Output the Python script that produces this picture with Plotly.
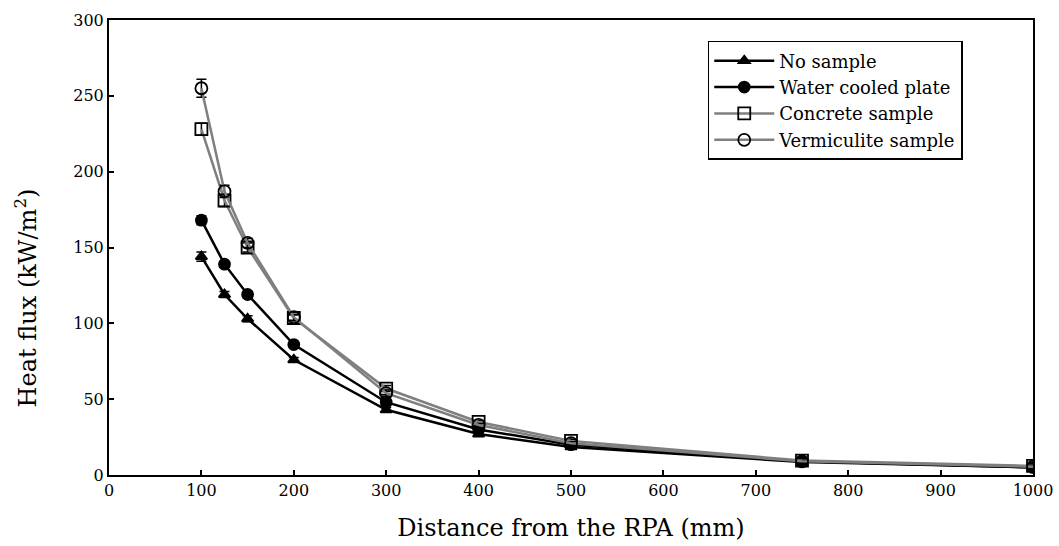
import plotly.graph_objects as go

# Distance from the radiant panel assembly (mm)
distance = [100, 125, 150, 200, 300, 400, 500, 750, 1000]

# Measured heat flux (kW/m2) for each configuration
no_sample = [144, 119, 103, 76, 43, 27, 18.5, 8.5, 5]
water_cooled = [168, 139, 119, 86, 48, 30, 20, 9, 5]
concrete = [228, 181, 150, 103.5, 57, 35, 22.5, 9.5, 6]
vermiculite = [255, 187, 153, 104, 54, 33, 21, 9, 5.5]

# Standard deviations shown as error bars
no_sample_err = [3, 2, 2, 1.5, 1.5, 1, 1, 0.5, 0.5]
water_cooled_err = [3, 2, 2, 1.5, 1.5, 1, 1, 0.5, 0.5]
concrete_err = [4, 4, 3, 2, 2, 1, 1, 0.5, 0.5]
vermiculite_err = [6, 4, 3, 2, 2, 1, 1, 0.5, 0.5]

series = [
    ("No sample", no_sample, no_sample_err, "black", "triangle-up", 10, "black"),
    ("Water cooled plate", water_cooled, water_cooled_err, "black", "circle", 11, "black"),
    ("Concrete sample", concrete, concrete_err, "#7f7f7f", "square-open", 12, "black"),
    ("Vermiculite sample", vermiculite, vermiculite_err, "#7f7f7f", "circle-open", 12, "black"),
]

fig = go.Figure()
for name, vals, err, lcol, sym, size, mcol in series:
    fig.add_trace(go.Scatter(
        x=distance, y=vals, name=name, mode="lines+markers",
        line=dict(color=lcol, width=2.5),
        marker=dict(symbol=sym, size=size, color=mcol,
                    line=dict(color=mcol, width=1.8)),
        error_y=dict(type="data", array=err, visible=True,
                     color="black", thickness=1.5, width=5),
    ))

font_family = "DejaVu Serif, Liberation Serif, serif"

fig.update_layout(
    width=1059, height=546,
    margin=dict(l=109, r=26, t=20, b=71),
    plot_bgcolor="white", paper_bgcolor="white",
    font=dict(family=font_family, color="black", size=16),
    legend=dict(
        x=0.648, y=0.954, xanchor="left", yanchor="top",
        bordercolor="black", borderwidth=1.5, bgcolor="white",
        font=dict(family=font_family, size=18, color="black"),
        tracegroupgap=0, itemwidth=60,
    ),
    showlegend=True,
    annotations=[dict(
        text="Heat flux (kW/m<sup>2</sup>)", xref="paper", yref="paper",
        x=-0.09, y=0.39, xanchor="center", yanchor="middle",
        textangle=-90, showarrow=False,
        font=dict(family=font_family, size=24, color="black"),
    )],
)

fig.update_xaxes(
    range=[0, 1000], dtick=100, tick0=0,
    showline=True, linecolor="black", linewidth=2, mirror=True,
    ticks="inside", ticklen=5, tickwidth=1.5, tickcolor="black",
    showgrid=False, zeroline=False, automargin=False,
    tickfont=dict(family=font_family, size=16),
    title=dict(text="Distance from the RPA (mm)", standoff=20,
               font=dict(family=font_family, size=24)),
)
fig.update_yaxes(
    range=[0, 300], dtick=50, tick0=0,
    showline=True, linecolor="black", linewidth=2, mirror=True,
    ticks="inside", ticklen=5, tickwidth=1.5, tickcolor="black",
    showgrid=False, zeroline=False, automargin=False,
    tickfont=dict(family=font_family, size=16),
)

fig.write_html("out.html")
